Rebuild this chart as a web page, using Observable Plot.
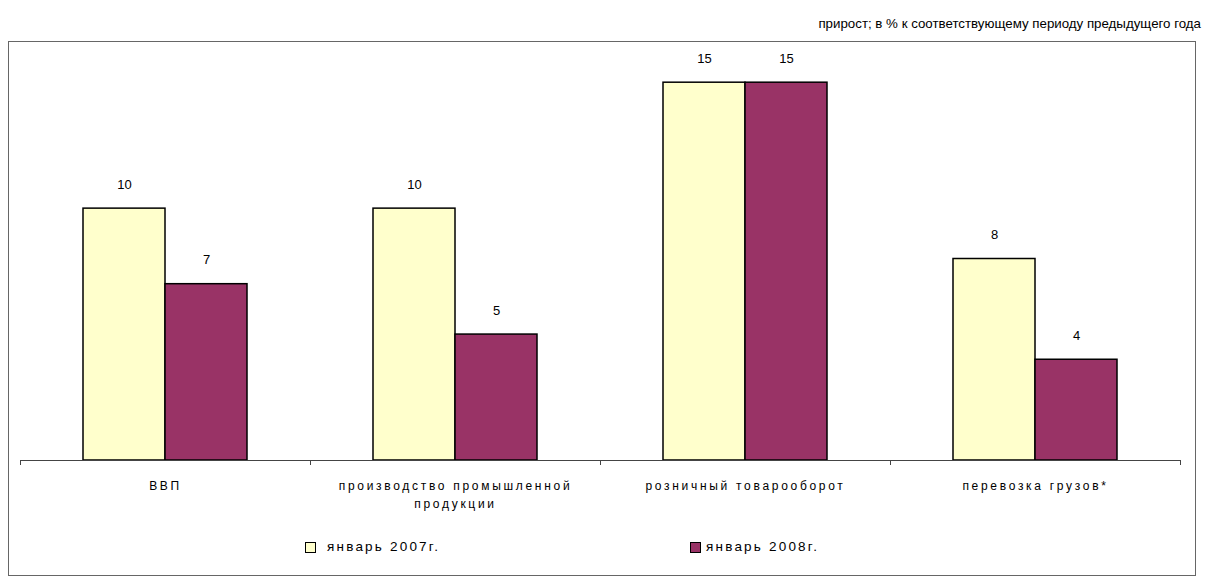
<!DOCTYPE html>
<html><head><meta charset="utf-8">
<script src="https://cdn.jsdelivr.net/npm/d3@7"></script>
<script src="https://cdn.jsdelivr.net/npm/@observablehq/plot@0.6"></script>
<style>
body{margin:0;background:#fff;font-family:"Liberation Sans",Arial,sans-serif;width:1205px;height:578px;position:relative;overflow:hidden;}
#title{position:absolute;right:4px;top:16px;font-size:13.3px;color:#000;white-space:nowrap;}
#frame{position:absolute;left:8px;top:41px;width:1186px;height:533px;border:1px solid #666;}
#chart{position:absolute;left:0;top:0;}
#chart svg{font-family:"Liberation Sans",Arial,sans-serif;}
#chart g[aria-label="fx-axis tick label"] text{letter-spacing:2.7px;}
.leg{position:absolute;font-size:13.5px;letter-spacing:2.2px;line-height:16px;white-space:nowrap;}
.sw{position:absolute;width:9px;height:9px;border:1px solid #000;}
</style></head>
<body>
<div id="title">прирост; в % к соответствующему периоду предыдущего года</div>
<div id="frame"><div id="chart"></div><div id="legend"></div></div>
<script>
const categories = ["ВВП","производство промышленной продукции","розничный товарооборот","перевозка грузов*"];
const tickLabels = ["ВВП","производство промышленной\nпродукции","розничный товарооборот","перевозка грузов*"];
const series = ["январь 2007г.","январь 2008г."];
const values2007 = [10,10,15,8];
const values2008 = [7,5,15,4];
const colors = ["#FFFFCC","#993366"];

const data = categories.flatMap((c,i)=>[
  {category:c, series:series[0], value:values2007[i]},
  {category:c, series:series[1], value:values2008[i]}
]);

const W = 1186, ML = 11, MR = 15;
const bw = (W - ML - MR) / categories.length;

const chart = Plot.plot({
  width: W, height: 486,
  marginLeft: ML, marginRight: MR, marginTop: 15, marginBottom: 68,
  style: {fontFamily: '"Liberation Sans", Arial, sans-serif', background: "transparent"},
  fx: {domain: categories, padding: 0, label: null, axis: null},
  x: {domain: series, paddingInner: 0, paddingOuter: 0.758, axis: null},
  y: {domain: [0, 16], axis: null},
  color: {domain: series, range: colors},
  marks: [
    Plot.barY(data, {fx: "category", x: "series", y: "value", fill: "series", stroke: "#000", strokeWidth: 1.5}),
    Plot.text(data, {fx: "category", x: "series", y: "value", text: d => String(d.value), dy: -24, fontSize: 13, fill: "#000"}),
    Plot.ruleY([0], {stroke: "#444"}),
    Plot.axisFx({anchor: "bottom", tickSize: 0, tickPadding: 16, fontSize: 12, lineHeight: 1.55, label: null, fill: "#000",
      tickFormat: d => tickLabels[categories.indexOf(d)]}),
    Plot.axisFx({anchor: "bottom", tickSize: 5, text: null, label: null, dx: -bw / 2, stroke: "#444"}),
    Plot.axisFx({anchor: "bottom", ticks: [categories[categories.length - 1]], tickSize: 5, text: null, label: null, dx: bw / 2, stroke: "#444"})
  ]
});
document.getElementById("chart").appendChild(chart);

const legend = document.getElementById("legend");
const legPos = [{sw: 296, tx: 318}, {sw: 681, tx: 697}];
series.forEach((s, i) => {
  const sw = document.createElement("div");
  sw.className = "sw";
  sw.style.left = legPos[i].sw + "px";
  sw.style.top = "500px";
  sw.style.background = colors[i];
  legend.appendChild(sw);
  const t = document.createElement("div");
  t.className = "leg";
  t.style.left = legPos[i].tx + "px";
  t.style.top = "497px";
  t.textContent = s;
  legend.appendChild(t);
});
</script>
</body></html>
